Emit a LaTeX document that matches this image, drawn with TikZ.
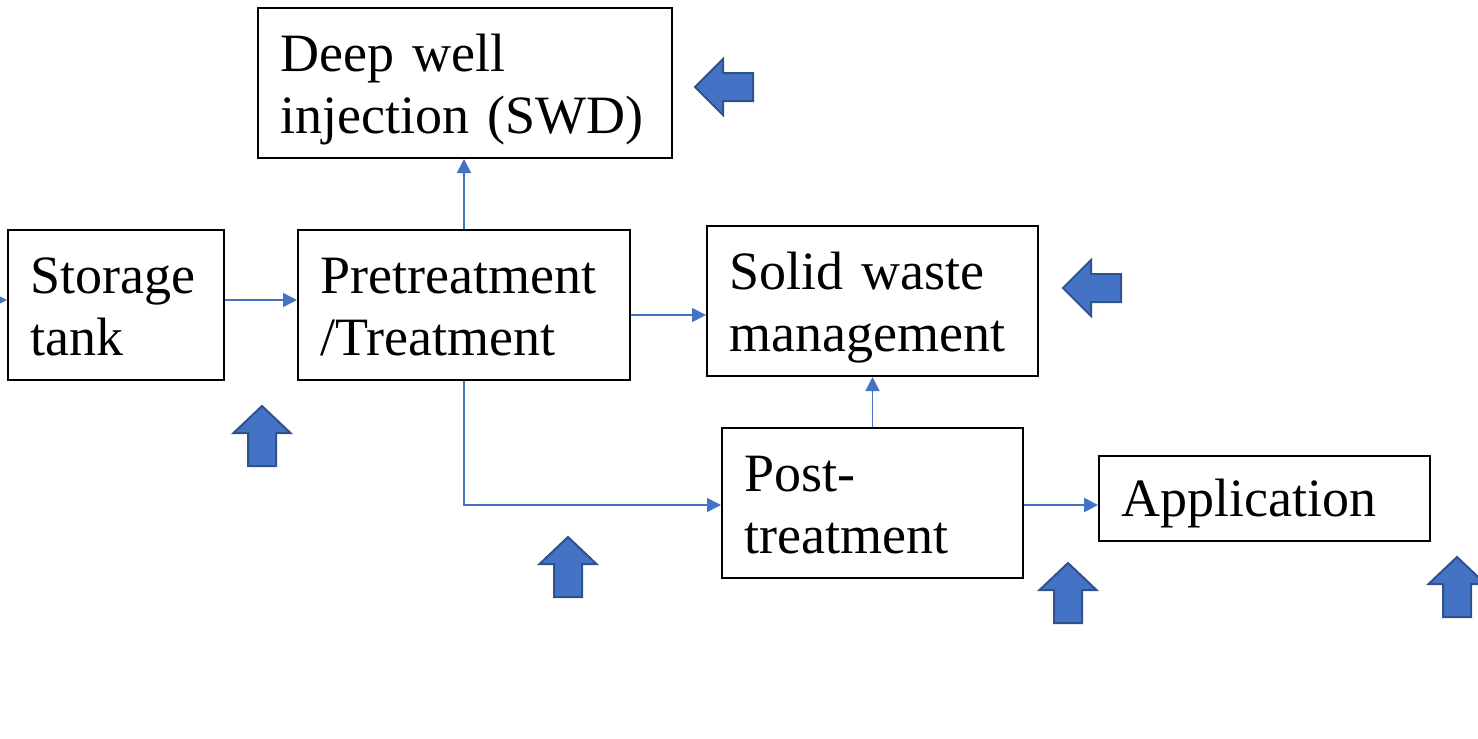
\documentclass[tikz,border=0pt]{standalone}
\usepackage{fontspec}
\setmainfont{Liberation Serif}
\usetikzlibrary{arrows.meta,calc}
\definecolor{conblue}{HTML}{4472C4}
\definecolor{arrfill}{HTML}{4472C4}
\definecolor{arredge}{HTML}{2F528F}
\tikzset{
  box/.style={draw=black, line width=1pt, inner sep=0pt, minimum height=75pt},
  label2/.style={anchor=base west, inner sep=0pt, align=left, text width=200pt,
    font=\fontsize{27}{31}\selectfont, xshift=11.5pt, yshift=6pt},
  label1/.style={label2, yshift=-14.75pt},
  conn/.style={draw=conblue, line width=0.8pt, -{Triangle[length=7pt,width=7pt]}},
  blockarrow/.style={fill=arrfill, draw=arredge, line width=1pt, line join=miter},
  leftarr/.pic={\path[blockarrow] (0,0) -- (28,-28) -- (28,-14) -- (58,-14) -- (58,14) -- (28,14) -- (28,28) -- cycle;},
  uparr/.pic={\path[blockarrow] (0,0) -- (28.5,27) -- (14,27) -- (14,60) -- (-14,60) -- (-14,27) -- (-28.5,27) -- cycle;}
}
\begin{document}
\begin{tikzpicture}[x=0.5pt,y=-0.5pt]
\useasboundingbox (0,0) rectangle (1478,739);
% boxes
\node[box, minimum width=207pt] (dw) at (465,83) {};
\node[box, minimum width=108pt] (st) at (116,305) {};
\node[box, minimum width=166pt] (pt) at (464,305) {};
\node[box, minimum width=165.5pt] (sw) at (872.5,301) {};
\node[box, minimum width=150.5pt] (po) at (872.5,503) {};
\node[box, minimum width=165.5pt, minimum height=42.5pt] (ap) at (1264.5,498.5) {};
% texts
\node[label2] (dwt) at (dw.west) {Deep well\\injection (SWD)};
\node[label2] (stt) at (st.west) {Storage\\tank};
\node[label2] (ptt) at (pt.west) {Pretreatment\\/Treatment};
\node[label2] (swt) at (sw.west) {Solid waste\\management};
\node[label2] (pot) at (po.west) {Post-\\treatment};
\node[label1] (apt) at (ap.west) {Application};
% connectors
\coordinate (in) at (0,300);
\draw[conn] (in) -- (in -| st.west);
\draw[conn] ([yshift=2.5pt]st.east) -- ([yshift=2.5pt]pt.west);
\draw[conn] (pt.north) -- (pt.north |- dw.south);
\draw[conn] ([yshift=-5pt]pt.east) -- ([yshift=-5pt]pt.east -| sw.west);
\draw[conn] (pt.south) |- ([yshift=-1pt]po.west);
\draw[conn] (po.north) -- (po.north |- sw.south);
\draw[conn, line width=1.3pt] ([yshift=-1pt]po.east) -- ([yshift=-1pt]po.east -| ap.west);
% block arrows
\pic at (695,87) {leftarr};
\pic at (1063,288) {leftarr};
\pic at (262,406) {uparr};
\pic at (568,537) {uparr};
\pic at (1068,563) {uparr};
\pic at (1457,557) {uparr};
\end{tikzpicture}
\end{document}
